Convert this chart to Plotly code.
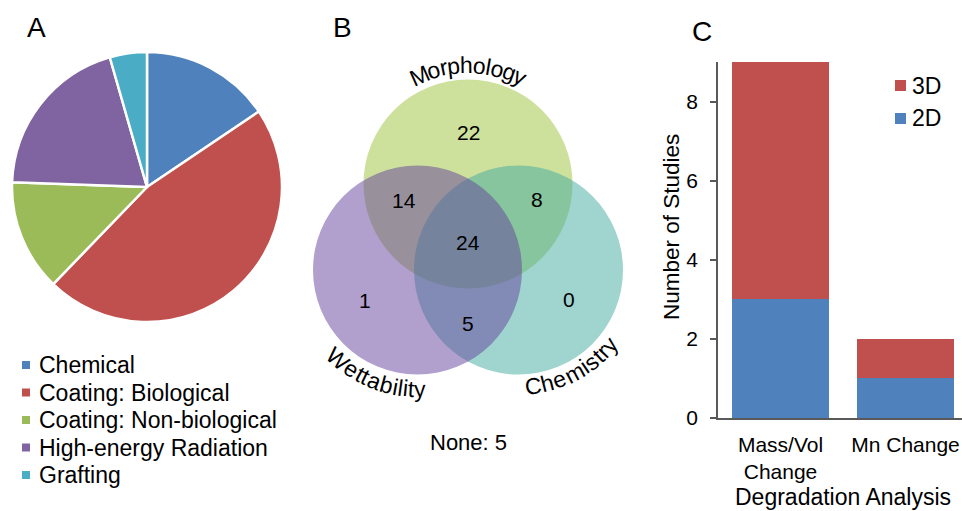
import math
import plotly.graph_objects as go

# ---------------- data ----------------
pie_labels = ["Chemical", "Coating: Biological", "Coating: Non-biological",
              "High-energy Radiation", "Grafting"]
pie_values = [7, 21, 6, 9, 2]
pie_colors = ["#4F81BD", "#C0504D", "#9BBB59", "#8064A2", "#4BACC6"]

venn_sets = ["Morphology", "Wettability", "Chemistry"]
venn_regions = ["M", "MW", "MC", "MWC", "W", "WC", "C"]
venn_counts = [22, 14, 8, 24, 1, 5, 0]
venn_none = 5

bar_categories = ["Mass/Vol<br>Change", "Mn Change"]
bar_2d = [3, 1]
bar_3d = [6, 1]
bar_series = ["3D", "2D"]
bar_colors = {"2D": "#4F81BD", "3D": "#C0504D"}

# ---------------- helpers ----------------
W, H = 962, 511
FONT = "Arial, Liberation Sans, sans-serif"


def px(x):
    return x / W


def py(y):
    return 1 - y / H


fig = go.Figure()

# ---------------- A: pie ----------------
pcx, pcy, pr = 147, 187, 135
fig.add_trace(go.Pie(
    labels=pie_labels, values=pie_values, sort=False, direction="clockwise",
    rotation=0, textinfo="none", hoverinfo="label+value",
    marker=dict(colors=pie_colors, line=dict(color="white", width=2.5)),
    domain=dict(x=[px(pcx - pr), px(pcx + pr)], y=[py(pcy + pr), py(pcy - pr)]),
    showlegend=False,
))

annotations = []
shapes = []

# pie legend
leg_x_sq, leg_x_txt, leg_y0, leg_dy = 26, 37, 365, 27.5
for i, (lab, col) in enumerate(zip(pie_labels, pie_colors)):
    yy = leg_y0 + i * leg_dy
    shapes.append(dict(type="rect", xref="paper", yref="paper",
                       x0=px(leg_x_sq - 4), x1=px(leg_x_sq + 4),
                       y0=py(yy + 4), y1=py(yy - 4),
                       fillcolor=col, line=dict(width=0)))
    annotations.append(dict(text=lab, x=px(leg_x_txt), y=py(yy), xref="paper", yref="paper",
                            xanchor="left", yanchor="middle", showarrow=False,
                            font=dict(size=23, color="black", family=FONT)))

# ---------------- B: venn ----------------
vr = 104.5
centers = {"Morphology": (468, 184), "Wettability": (417.5, 270), "Chemistry": (518.5, 270)}
vcolors = {"Morphology": "rgb(155,195,60)", "Wettability": "rgb(100,65,155)",
           "Chemistry": "rgb(65,170,160)"}
for name in ["Morphology", "Chemistry", "Wettability"]:
    cx, cy = centers[name]
    shapes.append(dict(type="circle", xref="paper", yref="paper",
                       x0=px(cx - vr), x1=px(cx + vr), y0=py(cy + vr), y1=py(cy - vr),
                       fillcolor=vcolors[name], opacity=0.5, line=dict(width=0)))

region_pos = {"M": (468, 133), "MW": (404, 201), "MC": (537, 199), "MWC": (468, 242),
              "W": (365, 300), "WC": (468, 323), "C": (569, 299)}
for reg, cnt in zip(venn_regions, venn_counts):
    x, y = region_pos[reg]
    annotations.append(dict(text=str(cnt), x=px(x), y=py(y), xref="paper", yref="paper",
                            showarrow=False, xanchor="center", yanchor="middle",
                            font=dict(size=21, color="black", family=FONT)))
annotations.append(dict(text=f"None: {venn_none}", x=px(468), y=py(442), xref="paper",
                        yref="paper", showarrow=False, xanchor="center", yanchor="middle",
                        font=dict(size=22, color="black", family=FONT)))

# curved labels
cw = {"M": .833, "o": .556, "r": .333, "p": .556, "h": .556, "l": .222, "g": .556,
      "y": .5, "W": .944, "e": .556, "t": .278, "a": .556, "b": .556, "i": .222,
      "C": .722, "m": .833, "s": .5}


def arc_text(text, cx, cy, R, center_deg, size, mode):
    widths = [cw.get(ch, .556) * size for ch in text]
    total = sum(widths)
    s = 0
    for ch, w in zip(text, widths):
        off = (s + w / 2 - total / 2) / R
        ang = math.radians(center_deg) + off
        if mode == "top":
            x = cx + R * math.sin(ang)
            y = cy - R * math.cos(ang)
            rot = math.degrees(ang)
        else:
            x = cx + R * math.sin(ang)
            y = cy + R * math.cos(ang)
            rot = -math.degrees(ang)
        annotations.append(dict(text=ch, x=px(x), y=py(y), xref="paper", yref="paper",
                                showarrow=False, xanchor="center", yanchor="middle",
                                textangle=rot,
                                font=dict(size=size, color="black", family=FONT)))
        s += w


arc_text("Morphology", *centers["Morphology"], 119, 0, 23, "top")
arc_text("Wettability", *centers["Wettability"], 119, -21.5, 23, "bottom")
arc_text("Chemistry", *centers["Chemistry"], 117, 28.5, 23, "bottom")

# ---------------- C: stacked bars ----------------
fig.add_trace(go.Bar(x=[0, 1], y=bar_2d, name="2D", marker=dict(color=bar_colors["2D"], line=dict(width=0)),
                     width=0.77, xaxis="x", yaxis="y", showlegend=False))
fig.add_trace(go.Bar(x=[0, 1], y=bar_3d, name="3D", marker=dict(color=bar_colors["3D"], line=dict(width=0)),
                     width=0.77, xaxis="x", yaxis="y", showlegend=False))

# bar legend
for i, name in enumerate(bar_series):
    yy = 85.5 + i * 33
    shapes.append(dict(type="rect", xref="paper", yref="paper",
                       x0=px(895), x1=px(906), y0=py(yy + 5.5), y1=py(yy - 5.5),
                       fillcolor=bar_colors[name], line=dict(width=0)))
    annotations.append(dict(text=name, x=px(910), y=py(yy), xref="paper", yref="paper",
                            xanchor="left", yanchor="middle", showarrow=False,
                            font=dict(size=23, color="black", family=FONT)))

annotations.append(dict(text="Number of Studies", x=px(671), y=py(227), xref="paper",
                        yref="paper", textangle=-90, showarrow=False,
                        xanchor="center", yanchor="middle",
                        font=dict(size=22.5, color="black", family=FONT)))
annotations.append(dict(text="Degradation Analysis", x=px(843), y=py(497), xref="paper",
                        yref="paper", showarrow=False, xanchor="center", yanchor="middle",
                        font=dict(size=23, color="black", family=FONT)))

# panel letters
for letter, (x, y) in zip(["A", "B", "C"], [(36, 27), (342, 27), (702, 31)]):
    annotations.append(dict(text=letter, x=px(x), y=py(y), xref="paper", yref="paper",
                            showarrow=False, xanchor="center", yanchor="middle",
                            font=dict(size=28, color="black", family=FONT)))

axis_col = "#595959"
fig.update_layout(
    width=W, height=H, margin=dict(l=0, r=0, t=0, b=0, autoexpand=False),
    paper_bgcolor="white", plot_bgcolor="white", barmode="stack", bargap=0.23,
    font=dict(family=FONT, color="black"),
    xaxis=dict(domain=[px(718), 1], range=[-0.5, -0.5 + 244 / 125],
               tickvals=[0, 1], ticktext=bar_categories, ticks="",
               showline=True, linecolor=axis_col, linewidth=1.5,
               showgrid=False, zeroline=False, ticklabelstandoff=7,
               ticklabeloverflow="allow", automargin=False,
               tickfont=dict(size=21, color="black", family=FONT)),
    yaxis=dict(domain=[py(418), py(62)], range=[0, 9], tickvals=[0, 2, 4, 6, 8],
               ticks="outside", ticklen=6, tickwidth=1.5, tickcolor=axis_col,
               showline=True, linecolor=axis_col, linewidth=1.5,
               showgrid=False, zeroline=False, ticklabelstandoff=8, automargin=False,
               tickfont=dict(size=21, color="black", family=FONT)),
    shapes=shapes, annotations=annotations,
)

fig.write_html(
    "out.html",
    config={"displayModeBar": False},
    post_script=("document.documentElement.style.overflow='hidden';"
                 "document.body.style.margin='0';"
                 "document.body.style.overflow='hidden';"),
)
